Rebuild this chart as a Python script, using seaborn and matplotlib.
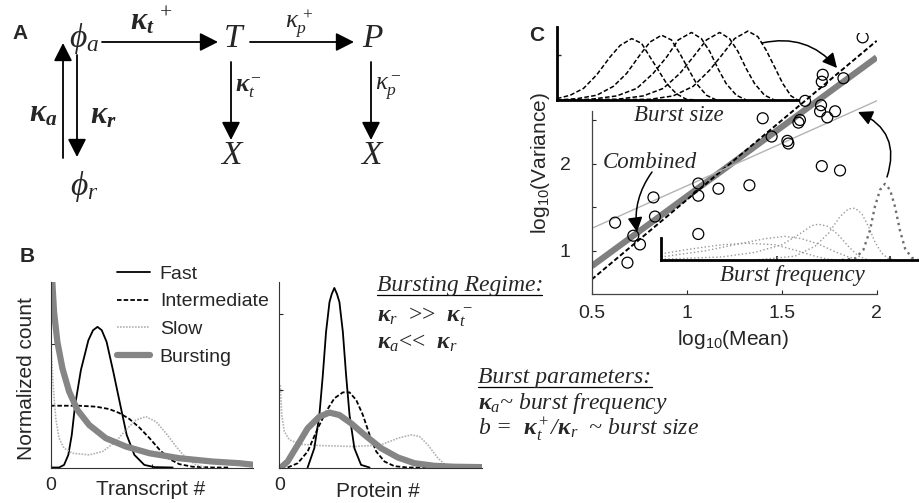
import matplotlib
matplotlib.use("Agg")
import matplotlib.pyplot as plt
import seaborn as sns

W, H = 919, 503

# ---------------- panel B : transcript distributions ----------------
tr_fast_x = [0, 4.1, 6.6, 8.7, 10.4, 12.0, 14.9, 18.6, 20.9, 23.1, 25.2, 27.6, 30.9, 34.7, 37.5, 41.3, 46.2, 51.2, 60.2]
tr_fast_y = [0, 0, 0.014, 0.068, 0.176, 0.333, 0.525, 0.686, 0.740, 0.758, 0.740, 0.677, 0.516, 0.319, 0.176, 0.068, 0.014, 0.002, 0]
tr_inter_x = [0, 14.0, 22.3, 28.9, 33.8, 38.8, 43.8, 48.8, 53.8, 58.7, 63.5, 70.1, 80.0, 88.0]
tr_inter_y = [0.333, 0.333, 0.328, 0.315, 0.294, 0.262, 0.215, 0.158, 0.095, 0.045, 0.018, 0.004, 0, 0]
tr_slow_x = [0.3, 1.2, 2.5, 4.1, 6.6, 10.7, 19.0, 25.6, 32.2, 37.1, 42.1, 47.0, 52.0, 56.9, 61.9, 66.8, 71.8, 76.7]
tr_slow_y = [0.624, 0.444, 0.265, 0.158, 0.104, 0.077, 0.068, 0.086, 0.140, 0.203, 0.256, 0.274, 0.247, 0.185, 0.113, 0.050, 0.014, 0]
tr_burst_x = [0.3, 0.8, 1.65, 3.3, 5.8, 9.1, 13.2, 19.0, 27.2, 37.1, 48.7, 63.5, 80.0, 93.2, 100]
tr_burst_y = [1.15, 1.0, 0.839, 0.677, 0.534, 0.409, 0.310, 0.229, 0.158, 0.113, 0.077, 0.050, 0.032, 0.023, 0.015]

# ---------------- panel B : protein distributions ----------------
pr_fast_x = [14.0, 17.3, 19.8, 21.5, 23.1, 24.8, 25.9, 27.2, 28.5, 29.7, 31.4, 33.0, 34.7, 37.1, 40.4, 44.6]
pr_fast_y = [0, 0.104, 0.283, 0.498, 0.731, 0.892, 0.935, 0.968, 0.935, 0.892, 0.731, 0.498, 0.283, 0.104, 0.014, 0]
pr_inter_x = [4.1, 9.1, 14.0, 19.0, 23.1, 27.2, 31.4, 34.7, 38.0, 41.3, 44.6, 47.9, 52.0, 56.9, 63.5, 73.4]
pr_inter_y = [0, 0.023, 0.086, 0.211, 0.301, 0.373, 0.405, 0.405, 0.364, 0.283, 0.176, 0.086, 0.032, 0.007, 0, 0]
pr_slow_x = [0.5, 1.2, 2.5, 5.0, 10.7, 20.6, 37.1, 50.3, 58.6, 65.2, 69.3, 73.4, 78.4, 82.5, 86.6]
pr_slow_y = [0.444, 0.283, 0.194, 0.149, 0.125, 0.118, 0.113, 0.122, 0.158, 0.176, 0.167, 0.122, 0.050, 0.011, 0]
pr_burst_x = [0.8, 4.1, 9.1, 14.0, 19.8, 24.8, 29.7, 35.5, 42.1, 50.3, 58.6, 66.8, 76.7, 86.6, 100]
pr_burst_y = [0, 0.032, 0.122, 0.211, 0.274, 0.296, 0.283, 0.238, 0.176, 0.104, 0.054, 0.023, 0.009, 0.004, 0.002]

legend_labels = ["Fast", "Intermediate", "Slow", "Bursting"]

# ---------------- panel C : mean vs variance ----------------
log_mean = [1.926, 1.716, 1.711, 1.825, 1.623, 1.707, 1.702, 1.781, 1.740, 1.596, 1.588, 1.400, 1.447, 1.530,
            1.535, 1.711, 1.807, 1.330, 1.167, 1.061, 1.061, 0.825, 0.833, 0.623, 0.719, 0.754, 0.688, 1.061]
log_var = [3.45, 3.02, 2.94, 2.98, 2.72, 2.67, 2.60, 2.60, 2.53, 2.50, 2.47, 2.52, 2.31, 2.26,
           2.23, 1.97, 1.92, 1.75, 1.71, 1.77, 1.63, 1.61, 1.39, 1.32, 1.17, 1.07, 0.86, 1.19]
fit_x = [0.5, 2.0]
combined_fit = [0.82, 3.22]
size_fit = [0.667, 3.41]
freq_fit = [1.254, 2.72]

# inset: burst size distributions
size_x = [[0, 0.55, 1.10, 1.65, 2.20, 2.62, 3.10, 3.51, 3.86, 4.20, 4.55, 4.96, 5.37, 5.79],
          [0, 0.83, 1.65, 2.34, 2.89, 3.44, 3.86, 4.34, 4.75, 5.10, 5.44, 5.79, 6.20, 6.61],
          [0, 1.38, 2.48, 3.31, 3.99, 4.55, 5.03, 5.58, 5.99, 6.34, 6.68, 7.02, 7.44, 7.85],
          [0, 2.48, 3.58, 4.41, 5.10, 5.65, 6.20, 6.75, 7.16, 7.51, 7.85, 8.20, 8.61, 9.02],
          [0, 3.86, 4.82, 5.65, 6.34, 6.89, 7.37, 7.92, 8.33, 8.68, 9.02, 9.37, 9.71, 9.99]]
size_y = [[0.02, 0.07, 0.17, 0.37, 0.63, 0.80, 0.90, 0.83, 0.63, 0.44, 0.24, 0.09, 0.01, 0],
          [0, 0.02, 0.07, 0.20, 0.39, 0.66, 0.85, 0.95, 0.88, 0.68, 0.46, 0.24, 0.07, 0],
          [0, 0.01, 0.06, 0.17, 0.39, 0.63, 0.88, 0.99, 0.90, 0.71, 0.46, 0.24, 0.07, 0],
          [0, 0.01, 0.06, 0.17, 0.39, 0.63, 0.88, 0.99, 0.90, 0.71, 0.46, 0.24, 0.07, 0],
          [0, 0.01, 0.06, 0.20, 0.44, 0.68, 0.90, 1.01, 0.93, 0.73, 0.49, 0.24, 0.06, 0]]

# inset: burst frequency distributions
freq_x = [[0, 1.06, 2.35, 3.33, 4.42, 5.19, 5.97, 6.49, 7.00],
          [0, 1.71, 3.00, 4.03, 4.81, 5.45, 6.10, 6.74, 7.26, 7.71],
          [0, 2.35, 3.64, 4.68, 5.32, 5.84, 6.10, 6.49, 6.87, 7.26, 7.65, 8.04],
          [3.64, 5.19, 5.97, 6.49, 6.94, 7.26, 7.52, 7.78, 8.04, 8.29, 8.55, 8.81, 9.07],
          [7.00, 7.52, 7.84, 8.10, 8.29, 8.49, 8.68, 8.88, 9.07, 9.26, 9.46, 9.72, 9.97]]
freq_y = [[0.08, 0.14, 0.20, 0.22, 0.20, 0.13, 0.05, 0.01, 0],
          [0.04, 0.12, 0.21, 0.28, 0.31, 0.28, 0.21, 0.11, 0.04, 0],
          [0.01, 0.04, 0.10, 0.20, 0.33, 0.45, 0.47, 0.44, 0.33, 0.18, 0.05, 0],
          [0, 0.05, 0.18, 0.35, 0.57, 0.67, 0.68, 0.61, 0.44, 0.24, 0.09, 0.02, 0],
          [0, 0.02, 0.13, 0.39, 0.70, 0.92, 1.00, 0.92, 0.70, 0.39, 0.15, 0.03, 0]]

sns.set_style("ticks")
plt.rcParams.update({
    "font.family": ["Liberation Sans", "DejaVu Sans"],
    "mathtext.fontset": "custom",
    "mathtext.rm": "Liberation Serif",
    "mathtext.it": "Liberation Serif:italic",
    "mathtext.bf": "Liberation Serif:italic:bold",
    "mathtext.sf": "Liberation Sans",
    "mathtext.fallback": "stix",
})

GRAY = "#858585"
LIGHT = "#b3b3b3"
SERIF = ["Liberation Serif", "DejaVu Serif"]

fig = plt.figure(figsize=(W / 100, H / 100), dpi=100)


def px_rect(x0, y0, x1, y1):
    return [x0 / W, 1 - y1 / H, (x1 - x0) / W, (y1 - y0) / H]


def style_b(ax):
    sns.despine(ax=ax)
    for s in ("left", "bottom"):
        ax.spines[s].set_color("#333333")
        ax.spines[s].set_linewidth(0.8)
    ax.tick_params(direction="in", length=3, width=0.8, labelsize=14, pad=7)
    ax.set_xlim(0, 100)
    ax.set_ylim(0, 1.0)


def line(ax, x, y, **kw):
    sns.lineplot(x=x, y=y, ax=ax, estimator=None, sort=False, **kw)


# transcript panel
ax_t = fig.add_axes(px_rect(50.7, 282, 253.3, 467.5))
line(ax_t, tr_fast_x, tr_fast_y, color="k", lw=1.3, label=legend_labels[0])
line(ax_t, tr_inter_x, tr_inter_y, color="k", lw=1.3, linestyle=(0, (2.5, 1.2)), label=legend_labels[1])
line(ax_t, tr_slow_x, tr_slow_y, color=LIGHT, lw=1.2, linestyle=(0, (1, 0.8)), label=legend_labels[2])
line(ax_t, tr_burst_x, tr_burst_y, color=GRAY, lw=4.5, label=legend_labels[3])
style_b(ax_t)
ax_t.set_xticks([0, 50], ["0", ""])
ax_t.set_yticks([0.668], [""])
ax_t.set_xlabel("Transcript #", fontsize=15)
ax_t.xaxis.label.set_va("center")
ax_t.xaxis.set_label_coords(0.495, -0.121)
ax_t.set_ylabel("Normalized count", fontsize=15)
ax_t.yaxis.label.set_va("center")
ax_t.yaxis.set_label_coords(-0.117, 0.477)
ax_t.legend(loc="upper left", bbox_to_anchor=(117 / W, 1 - 265 / H), bbox_transform=fig.transFigure,
            frameon=False, fontsize=14, handlelength=1.7, handletextpad=0.5, labelspacing=0.52,
            borderpad=0, borderaxespad=0)

# protein panel
ax_p = fig.add_axes(px_rect(279.3, 282, 481.7, 467.5))
line(ax_p, pr_slow_x, pr_slow_y, color=LIGHT, lw=1.2, linestyle=(0, (1, 0.8)))
line(ax_p, pr_fast_x, pr_fast_y, color="k", lw=1.3)
line(ax_p, pr_inter_x, pr_inter_y, color="k", lw=1.3, linestyle=(0, (2.5, 1.2)))
line(ax_p, pr_burst_x, pr_burst_y, color=GRAY, lw=4.5)
style_b(ax_p)
ax_p.set_xticks([0], ["0"])
ax_p.set_yticks([0.418, 0.83], ["", ""])
ax_p.set_xlabel("Protein #", fontsize=15)
ax_p.xaxis.label.set_va("center")
ax_p.xaxis.set_label_coords(0.488, -0.132)

# ---------------- panel C ----------------
ax_c = fig.add_axes(px_rect(591.7, 33, 876.7, 294))
line(ax_c, fit_x, combined_fit, color="#808080", lw=4.5, solid_capstyle="butt")
line(ax_c, fit_x, size_fit, color="k", lw=1.4, linestyle=(0, (2.5, 1.3)))
line(ax_c, fit_x, freq_fit, color=LIGHT, lw=1.0)
sns.scatterplot(x=log_mean, y=log_var, ax=ax_c, s=62, facecolor="none", edgecolor="k",
                linewidth=0.9, zorder=3, legend=False)
sns.despine(ax=ax_c)
ax_c.set_xlim(0.5, 2.0)
ax_c.set_ylim(0.5, 3.5)
ax_c.spines["left"].set_bounds(0.5, 2.6)
for s in ("left", "bottom"):
    ax_c.spines[s].set_color("#444444")
    ax_c.spines[s].set_linewidth(0.9)
ax_c.set_xticks([0.5, 1, 1.5, 2], ["0.5", "1", "1.5", "2"])
ax_c.set_yticks([1, 1.5, 2, 2.5], ["1", "", "2", ""])
ax_c.tick_params(direction="in", length=3, width=0.8, labelsize=14)
ax_c.tick_params(axis="x", pad=8)
ax_c.tick_params(axis="y", pad=15)
ax_c.set_xlabel(r"$\mathregular{log_{10}(Mean)}$", fontsize=15)
ax_c.xaxis.label.set_va("center")
ax_c.xaxis.set_label_coords(0.496, -0.176)
ax_c.set_ylabel(r"$\mathregular{log_{10}(Variance)}$", fontsize=15)
ax_c.yaxis.label.set_va("center")
ax_c.yaxis.set_label_coords(-0.181, 0.502)

# burst size inset
ax_s = fig.add_axes(px_rect(557, 27, 798, 100))
for xs, ys in zip(size_x, size_y):
    line(ax_s, xs, ys, color="k", lw=1.1, linestyle=(0, (3, 1.5)))
ax_s.set_xlim(0, 10)
ax_s.set_ylim(0, 1.07)
sns.despine(ax=ax_s)
ax_s.set_facecolor("white")
for s in ("left", "bottom"):
    ax_s.spines[s].set_linewidth(2)
    ax_s.spines[s].set_color("k")
ax_s.set_xticks([])
ax_s.set_yticks([0.66], [""])
ax_s.tick_params(direction="in", length=3, width=1)

# burst frequency inset
ax_f = fig.add_axes(px_rect(661, 180, 919, 260))
ax_f.patch.set_alpha(0)
for i, (xs, ys) in enumerate(zip(freq_x, freq_y)):
    last = i == len(freq_x) - 1
    line(ax_f, xs, ys, color="#6e6e6e" if last else "#999999", lw=1.7 if last else 1.0, linestyle=":")
ax_f.set_xlim(0, 10)
ax_f.set_ylim(0, 1.05)
sns.despine(ax=ax_f)
ax_f.spines["left"].set_bounds(0, 0.285)
for s in ("left", "bottom"):
    ax_f.spines[s].set_linewidth(2)
    ax_f.spines[s].set_color("k")
ax_f.set_xticks([4.48, 8.88], ["", ""])
ax_f.set_yticks([])
ax_f.tick_params(direction="in", length=3, width=1.2)

# ---------------- overlay: diagram, annotations ----------------
ov = fig.add_axes([0, 0, 1, 1])
ov.set_xlim(0, W)
ov.set_ylim(H, 0)
ov.axis("off")
ov.patch.set_alpha(0)

arrow_kw = dict(arrowstyle="-|>,head_length=0.55,head_width=0.28", color="k", lw=1.3,
                mutation_scale=20, shrinkA=0, shrinkB=0)


def arrow(x0, y0, x1, y1, **kw):
    props = dict(arrow_kw)
    props.update(kw)
    ov.annotate("", xy=(x1, y1), xytext=(x0, y0), arrowprops=props)


# panel labels
for lab, (lx, ly) in {"A": (20, 33), "B": (27, 256), "C": (537, 35)}.items():
    ov.text(lx, ly, lab, fontsize=15, fontweight="bold", ha="center", va="center")

# panel A: reaction scheme
big = dict(fontsize=24, ha="center", va="center")
ov.text(84, 38, r"$\phi_a$", **big)
ov.text(84, 186, r"$\phi_r$", **big)
ov.text(234, 38, r"$T$", **big)
ov.text(373, 38, r"$P$", **big)
ov.text(232, 155, r"$X$", **big)
ov.text(372, 155, r"$X$", **big)
ov.text(151, 21, r"$\mathbf{\kappa_{t}}^{\,+}$", fontsize=22, ha="center", va="center")
ov.text(299, 24, r"$\kappa_p^{\,+}$", fontsize=18, ha="center", va="center")
ov.text(235, 88, r"$\mathbf{\kappa}_t^-$", fontsize=18, ha="left", va="center")
ov.text(375, 88, r"$\kappa_p^-$", fontsize=18, ha="left", va="center")
ov.text(43, 113, r"$\mathbf{\kappa_{a}}$", fontsize=22, ha="center", va="center")
ov.text(103, 115, r"$\mathbf{\kappa_{r}}$", fontsize=22, ha="center", va="center")
arrow(102, 42, 218, 42)
arrow(250, 42, 354, 42)
arrow(231, 62, 231, 140)
arrow(371, 62, 371, 140)
arrow(63, 158, 63, 43)
arrow(77, 55, 77, 157)

# panel B: text
ov.text(377, 291, "Bursting Regime:", fontsize=17, family=SERIF, style="italic", ha="left", va="baseline")
ov.plot([377, 542], [294.5, 294.5], color="k", lw=0.9)
ov.text(377, 317, r"$\mathbf{\kappa}_r$  >>  $\mathbf{\kappa}_t^-$", fontsize=17, family=SERIF,
        ha="left", va="center")
ov.text(377, 343, r"$\mathbf{\kappa}_a$<<  $\mathbf{\kappa}_r$", fontsize=17, family=SERIF,
        ha="left", va="center")
ov.text(478, 383, "Burst parameters:", fontsize=17, family=SERIF, style="italic", ha="left", va="baseline")
ov.plot([478, 652], [386.5, 386.5], color="k", lw=0.9)
ov.text(478, 404, r"$\mathbf{\kappa}_a$~ burst frequency", fontsize=17, family=SERIF, style="italic",
        ha="left", va="center")
ov.text(478, 428, r"b =  $\mathbf{\kappa}_t^+$/$\mathbf{\kappa}_r$  ~ burst size", fontsize=17, family=SERIF,
        style="italic", ha="left", va="center")

# panel C: annotations
ital = dict(fontsize=16.5, family=SERIF, style="italic", ha="center", va="center")
ov.text(679, 115, "Burst size", **ital)
ov.text(650, 163, "Combined", **ital)
ov.text(792, 275, "Burst frequency", **ital)
c_kw = dict(lw=1.1, mutation_scale=16)
arrow(762, 43, 837, 68, connectionstyle="arc3,rad=-0.3", **c_kw)
arrow(887, 177, 858, 112, connectionstyle="arc3,rad=0.45", **c_kw)
arrow(652, 172, 637, 232, connectionstyle="arc3,rad=0.2", **c_kw)

fig.savefig("out.png", dpi=100)
